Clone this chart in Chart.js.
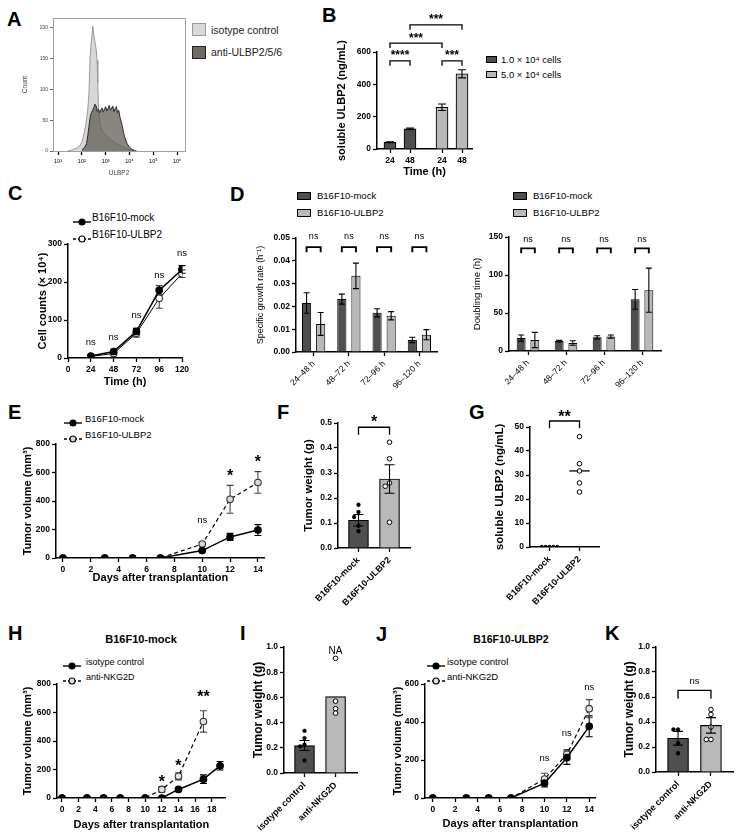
<!DOCTYPE html>
<html>
<head>
<meta charset="utf-8">
<script src="https://cdn.jsdelivr.net/npm/chart.js@4.4.1/dist/chart.umd.min.js"></script>
<style>
  html, body { margin: 0; padding: 0; background: #fff; }
  body { position: relative; width: 742px; height: 838px; overflow: hidden; font-family: "Liberation Sans", Arial, sans-serif; color: #000; }
  canvas { position: absolute; }
  .t { position: absolute; white-space: nowrap; transform: translateY(-50%); line-height: 1; }
  .c { transform: translate(-50%, -50%); }
  .box { position: absolute; box-sizing: border-box; border: 1px solid #000; }
</style>
</head>
<body>
<script>
// ---------- data ----------
// A: flow histogram, x = log10 fluorescence
const histIsoX = [1.4,1.6,1.8,1.9,2.0,2.05,2.1,2.15,2.2,2.25,2.3,2.34,2.38,2.42,2.46,2.5,2.55,2.6,2.64,2.67,2.7,2.75,2.8,2.9,3.0,3.1,3.2,3.3,3.4,3.5,3.6,3.7,3.8,3.9,4.0,4.1,4.2];
const histIsoCount = [0,2,5,8,14,22,30,40,52,68,95,145,170,185,203,190,178,165,148,110,70,48,38,30,26,22,19,16,13,11,9,7,5,4,2,1,0];
const histAbX = [2.0,2.1,2.2,2.25,2.3,2.35,2.4,2.45,2.5,2.55,2.6,2.65,2.7,2.75,2.8,2.85,2.9,2.95,3.0,3.05,3.1,3.15,3.2,3.25,3.3,3.35,3.4,3.45,3.5,3.55,3.6,3.65,3.7,3.75,3.8,3.9,4.0,4.1,4.2,4.3];
const histAbCount = [2,5,12,25,40,55,62,66,70,76,73,64,68,62,67,70,63,68,72,65,69,74,66,70,73,64,69,72,62,66,55,48,40,30,22,12,6,3,1,0];
const histDecades = [1,2,3,4,5,6];
const histDecadeLabels = ['10¹','10²','10³','10⁴','10⁵','10⁶'];
const histCountTicks = [0,50,100,150,200];

// B: soluble ULBP2
const bDensity = ['1.0 × 10⁴ cells', '5.0 × 10⁴ cells'];
const bTimes = ['24', '48'];
const bLow = [42, 124], bLowErr = [3, 5];
const bHigh = [258, 465], bHighErr = [20, 25];
const bSigPairs = [[0,1],[2,3],[0,2],[1,3]];
const bSigLevel = [545, 545, 655, 768];
const bSigText = ['****','***','***','***'];

// C: cell counts
const cTimes = [24, 48, 72, 96, 120];
const cMock = [5, 17, 70, 178, 233], cMockErr = [1, 2, 8, 12, 10];
const cUlbp = [4, 12, 65, 157, 222], cUlbpErr = [1, 2, 10, 26, 10];
const cSigY = [42, 55, 113, 218, 276];

// D: growth rate / doubling time
const dLines = ['B16F10-mock', 'B16F10-ULBP2'];
const dIntervals = ['24–48 h', '48–72 h', '72–96 h', '96–120 h'];
const sgrMock = [0.0215, 0.0232, 0.0172, 0.0053], sgrMockErr = [0.0045, 0.0022, 0.0018, 0.0012];
const sgrUlbp = [0.0123, 0.0334, 0.0159, 0.0076], sgrUlbpErr = [0.005, 0.0056, 0.0018, 0.0022];
const dtMock = [17, 13, 18, 68], dtMockErr = [4, 1, 2, 13];
const dtUlbp = [14.5, 10.5, 19, 80], dtUlbpErr = [10, 3, 2, 29];

// E: tumour volume
const eDays = [0, 3, 5, 7, 10, 12, 14];
const eMock = [0, 0, 0, 0, 52, 148, 196], eMockErr = [0, 0, 0, 0, 8, 25, 38];
const eUlbp = [0, 0, 0, 0, 98, 412, 530], eUlbpErr = [0, 0, 0, 0, 12, 98, 76];
const eSigDay = [10, 12, 14], eSigText = ['ns', '*', '*'], eSigY = [262, 600, 700];
const dayTicks14 = [0, 2, 4, 6, 8, 10, 12, 14];

// F: tumour weight
const fGroups = ['B16F10-mock', 'B16F10-ULBP2'];
const fMean = [0.111, 0.276], fSem = [0.023, 0.057];
const fMockPts = [0.173, 0.144, 0.124, 0.089, 0.067];
const fUlbpPts = [0.423, 0.357, 0.26, 0.247, 0.103];

// G: serum soluble ULBP2
const gMockPts = [0, 0, 0, 0, 0];
const gUlbpPts = [46, 34.7, 31.7, 26.7, 22.9];

// H: B16F10-mock, antibody treatment
const hTreat = ['isotype control', 'anti-NKG2D'];
const hDaysIso = [0, 3, 5, 7, 10, 12, 14, 17, 19];
const hIso = [0, 0, 0, 0, 0, 0, 60, 132, 226], hIsoErr = [0, 0, 0, 0, 0, 0, 8, 30, 30];
const hDaysAnti = [0, 3, 5, 7, 10, 12, 14, 17];
const hAnti = [0, 0, 0, 0, 0, 60, 152, 537], hAntiErr = [0, 0, 0, 0, 0, 20, 25, 75];
const hSigDay = [12, 14, 17], hSigText = ['*', '*', '**'], hSigY = [140, 250, 735];
const dayTicks18 = [0, 2, 4, 6, 8, 10, 12, 14, 16, 18];

// I: tumour weight, mock
const iMean = [0.218, 0.606], iSem = [0.04, 0];
const iIsoPts = [0.335, 0.277, 0.225, 0.212, 0.10];
const iAntiPts = [0.91, 0.57, 0.51, 0.475];

// J: B16F10-ULBP2, antibody treatment
const jDays = [0, 3, 5, 7, 10, 12, 14];
const jIso = [0, 0, 0, 0, 78, 212, 377], jIsoErr = [0, 0, 0, 0, 20, 35, 55];
const jAnti = [0, 0, 0, 0, 100, 230, 470], jAntiErr = [0, 0, 0, 0, 30, 25, 48];
const jSigY = [210, 342, 580];

// K: tumour weight, ULBP2
const kMean = [0.27, 0.373], kSem = [0.055, 0.062];
const kIsoPts = [0.34, 0.34, 0.23, 0.15];
const kAntiPts = [0.50, 0.46, 0.36, 0.26, 0.26];

// ---------- helpers ----------
const FONT = '"Liberation Sans", Arial, sans-serif';
const DARK = '#4f4f4f', LIGHT = '#b9b9b9';
const TICKF = {size: 8.5, weight: 'bold'};
Chart.defaults.font.family = FONT;
Chart.defaults.color = '#000';
Chart.defaults.animation = false;
Chart.defaults.plugins.legend.display = false;
Chart.defaults.plugins.tooltip.enabled = false;

function drawErr(chart) {
  const ctx = chart.ctx;
  chart.data.datasets.forEach((ds, di) => {
    if (!ds.errors) return;
    const meta = chart.getDatasetMeta(di);
    const ys = chart.scales[meta.yAxisID];
    ctx.save();
    ctx.strokeStyle = ds.errColor || '#000';
    ctx.lineWidth = ds.errWidth || 1.1;
    meta.data.forEach((el, i) => {
      const e = ds.errors[i];
      if (!e) return;
      const v = meta.controller.getParsed(i).y;
      const yt = ys.getPixelForValue(v + e), yb = ys.getPixelForValue(v - e), c = ds.errCap || 3.5;
      ctx.beginPath();
      ctx.moveTo(el.x, yt); ctx.lineTo(el.x, yb);
      ctx.moveTo(el.x - c, yt); ctx.lineTo(el.x + c, yt);
      ctx.moveTo(el.x - c, yb); ctx.lineTo(el.x + c, yb);
      ctx.stroke();
    });
    ctx.restore();
  });
}
const errorBars = {
  id: 'errorBars',
  beforeDatasetsDraw(chart) { if (chart.data.errBehind) drawErr(chart); },
  afterDatasetsDraw(chart) { if (!chart.data.errBehind) drawErr(chart); }
};
const sigMarks = {
  id: 'sigMarks',
  afterDraw(chart) {
    const m = chart.data.marks;
    if (!m) return;
    const ctx = chart.ctx, xs = chart.scales.x, ys = chart.scales.y;
    ctx.save();
    ctx.strokeStyle = '#000';
    (m.brackets || []).forEach(b => {
      const x1 = xs.getPixelForValue(b.x1), x2 = xs.getPixelForValue(b.x2);
      const yt = ys.getPixelForValue(b.y), yl = ys.getPixelForValue(b.y - b.leg);
      ctx.lineWidth = b.lw || 1.3;
      ctx.beginPath();
      ctx.moveTo(x1, yl); ctx.lineTo(x1, yt); ctx.lineTo(x2, yt); ctx.lineTo(x2, yl);
      ctx.stroke();
    });
    ctx.textAlign = 'center';
    ctx.textBaseline = 'middle';
    ctx.fillStyle = '#000';
    (m.texts || []).forEach(t => {
      const star = t.t.indexOf('*') >= 0;
      const size = t.size || (star ? 16 : 9.5);
      ctx.font = (star ? 'bold ' : '') + size + 'px ' + FONT;
      ctx.fillText(t.t, xs.getPixelForValue(t.x), ys.getPixelForValue(t.y) + (star ? size * 0.28 : 0));
    });
    ctx.restore();
  }
};
const frame = {
  id: 'frame',
  afterDraw(chart) {
    if (!chart.data.frame) return;
    const a = chart.chartArea, ctx = chart.ctx;
    ctx.save();
    ctx.strokeStyle = '#a0a0a0';
    ctx.lineWidth = 1;
    ctx.strokeRect(a.left + 0.5, a.top + 0.5, a.right - a.left, a.bottom - a.top);
    ctx.restore();
  }
};
Chart.register(errorBars, sigMarks, frame);

function zeroPad(s) { s.paddingLeft = 0; s.paddingRight = 0; s.paddingTop = 0; s.paddingBottom = 0; }

function panel(box, config) {
  const {L, T, R, B, yW, xH, pt, pr} = box;
  const w = R - L + yW + pr, h = B - T + pt + xH;
  const c = document.createElement('canvas');
  c.width = w; c.height = h;
  c.style.left = (L - yW) + 'px'; c.style.top = (T - pt) + 'px';
  c.style.width = w + 'px'; c.style.height = h + 'px';
  document.body.appendChild(c);
  const o = config.options;
  o.responsive = false;
  o.devicePixelRatio = 1;
  o.layout = {padding: {top: pt, right: pr, left: 0, bottom: 0}};
  o.scales.x.afterFit = s => { s.height = xH; zeroPad(s); };
  o.scales.y.afterFit = s => { s.width = yW; zeroPad(s); };
  return new Chart(c, config);
}

function grid() { return {drawOnChartArea: false, tickLength: 4, tickColor: '#000', tickWidth: 1.3, offset: false}; }
function yAx(min, max, step, title, tsize, tweight, fmt) {
  const a = {
    min, max,
    ticks: {stepSize: step, font: TICKF, color: '#000', padding: 2},
    grid: grid(), border: {color: '#000', width: 1.5},
    title: {display: true, text: title, font: {size: tsize, weight: tweight || 'bold'}, color: '#000', padding: 0}
  };
  if (fmt !== undefined) a.ticks.callback = v => v.toFixed(fmt);
  return a;
}
function xAx(o) {
  const a = {
    type: o.type || 'linear', offset: !!o.offset,
    grid: grid(), border: {color: '#000', width: 1.5},
    ticks: {font: o.font || TICKF, color: '#000', padding: 3, autoSkip: false,
            minRotation: o.rot || 0, maxRotation: o.rot || 0},
    title: o.title ? {display: true, text: o.title, font: {size: o.tsize || 11, weight: 'bold'}, color: '#000', padding: 0} : {display: false}
  };
  if (o.min !== undefined) { a.min = o.min; a.max = o.max; }
  if (o.step) a.ticks.stepSize = o.step;
  if (o.ticks) a.afterBuildTicks = s => { s.ticks = o.ticks.map(v => ({value: v})); };
  if (o.label) a.ticks.callback = v => o.label(v);
  return a;
}
function pts(xs, ys) { return xs.map((x, i) => ({x, y: ys[i]})); }
function swarm(vals, center, tol, step) {
  return vals.map((v, i) => {
    let k = 0;
    for (let j = 0; j < i; j++) if (Math.abs(vals[j] - v) < tol) k++;
    const off = k === 0 ? 0 : (k % 2 ? -1 : 1) * Math.ceil(k / 2) * step;
    return {x: center + off, y: v};
  });
}
function lineDS(label, xs, ys, errs, open, dashed, fillCol) {
  return {
    label, data: pts(xs, ys), errors: errs, errCap: 3.5, errColor: open ? '#444' : '#000',
    borderColor: '#000', borderWidth: dashed ? 1.2 : 1.5, borderDash: dashed ? [4, 3] : [],
    pointRadius: 3.3, pointBackgroundColor: open ? (fillCol || '#fff') : '#000',
    pointBorderColor: open ? '#333' : '#000', pointBorderWidth: 1.1, tension: 0, fill: false,
    order: open ? 2 : 1
  };
}

// ---------- HTML text ----------
function txt(x, y, s, style, center) {
  const d = document.createElement('div');
  d.className = 't' + (center ? ' c' : '');
  d.textContent = s;
  d.style.left = x + 'px'; d.style.top = y + 'px';
  Object.assign(d.style, style || {});
  document.body.appendChild(d);
}
function letter(x, y, s) { txt(x, y, s, {fontSize: '20px', fontWeight: 'bold'}); }
function boxKey(x, y, w, h, fill, border) {
  const d = document.createElement('div');
  d.className = 'box';
  Object.assign(d.style, {left: x + 'px', top: y + 'px', width: w + 'px', height: h + 'px', background: fill, borderColor: border || '#000'});
  document.body.appendChild(d);
}
function lineKey(x, y, open, dashed, fillCol) {
  const d = document.createElement('div');
  d.style.cssText = 'position:absolute;left:' + x + 'px;top:' + (y - 5) + 'px;width:20px;height:10px;';
  d.innerHTML = '<svg width="20" height="10"><line x1="1" y1="5" x2="19" y2="5" stroke="#000" stroke-width="1.4"' +
    (dashed ? ' stroke-dasharray="3 2"' : '') + '/><circle cx="10" cy="5" r="3" fill="' +
    (open ? (fillCol || '#fff') : '#000') + '" stroke="#000" stroke-width="1.1"/></svg>';
  document.body.appendChild(d);
}

letter(7, 19, 'A'); letter(322, 15, 'B'); letter(8, 193, 'C'); letter(230, 194, 'D');
letter(8, 412, 'E'); letter(277, 412, 'F'); letter(469, 412, 'G');
letter(8, 633, 'H'); letter(240, 633, 'I'); letter(376, 634, 'J'); letter(605, 633, 'K');

// legends
boxKey(192, 23, 14, 13, '#d9d9d9', '#9a9a9a'); txt(211, 30, 'isotype control', {fontSize: '10.5px', color: '#222'});
boxKey(192, 46, 14, 13, '#6f6a66', '#222');     txt(211, 52, 'anti-ULBP2/5/6', {fontSize: '10.5px', color: '#222'});
boxKey(486, 56, 11, 7, DARK); txt(501, 59.5, bDensity[0], {fontSize: '9.5px'});
boxKey(486, 71, 11, 7, LIGHT); txt(501, 74.5, bDensity[1], {fontSize: '9.5px'});
lineKey(72, 218, false, false); txt(92, 218, dLines[0], {fontSize: '10px'});
lineKey(72, 235, true, true); txt(92, 235, dLines[1], {fontSize: '10px'});
boxKey(297, 192, 14, 8, DARK); txt(317, 196, dLines[0], {fontSize: '9.5px'});
boxKey(297, 209, 14, 8, LIGHT); txt(317, 213, dLines[1], {fontSize: '9.5px'});
boxKey(513, 192, 14, 8, DARK); txt(533, 196, dLines[0], {fontSize: '9.5px'});
boxKey(513, 209, 14, 8, LIGHT); txt(533, 213, dLines[1], {fontSize: '9.5px'});
lineKey(63, 419, false, false); txt(85, 419, dLines[0], {fontSize: '9.5px'});
lineKey(63, 435, true, true, '#d8d8d8'); txt(85, 435, dLines[1], {fontSize: '9.5px'});
txt(141, 639, 'B16F10-mock', {fontSize: '11px', fontWeight: 'bold'}, true);
lineKey(62, 662, false, false); txt(86, 662, hTreat[0], {fontSize: '9px'});
lineKey(62, 677, true, true, '#e2e2e2'); txt(86, 677, hTreat[1], {fontSize: '9px'});
txt(511, 639, 'B16F10-ULBP2', {fontSize: '10.5px', fontWeight: 'bold'}, true);
lineKey(426, 662, false, false); txt(447, 662, hTreat[0], {fontSize: '9.5px'});
lineKey(426, 677, true, true, '#e2e2e2'); txt(447, 677, hTreat[1], {fontSize: '9.5px'});

// ---------- A ----------
panel({L: 53, T: 18, R: 185, B: 151, yW: 32, xH: 26, pt: 2, pr: 2}, {
  type: 'line',
  data: {
    frame: true,
    datasets: [
      {label: 'anti-ULBP2/5/6', data: pts(histAbX, histAbCount), borderColor: '#2a2a2a', borderWidth: 1,
       backgroundColor: 'rgba(92,86,80,0.72)', fill: 'origin', pointRadius: 0, tension: 0, order: 1},
      {label: 'isotype control', data: pts(histIsoX, histIsoCount), borderColor: '#9a9a9a', borderWidth: 1,
       backgroundColor: '#d7d7d7', fill: 'origin', pointRadius: 0, tension: 0, order: 2}
    ]
  },
  options: {
    scales: {
      x: Object.assign(xAx({min: 0.79, max: 6.33, ticks: histDecades, font: {size: 5.5},
            label: v => histDecadeLabels[histDecades.indexOf(v)], title: 'ULBP2'}),
          {border: {color: '#888', width: 1}, title: {display: true, text: 'ULBP2', font: {size: 6.5}, color: '#444', padding: 0}}),
      y: {min: 0, max: 216, afterBuildTicks: s => { s.ticks = histCountTicks.map(v => ({value: v})); },
          ticks: {font: {size: 5}, color: '#444', padding: 2},
          grid: {drawOnChartArea: false, tickLength: 3, tickColor: '#666'}, border: {color: '#888', width: 1},
          title: {display: true, text: 'Count', font: {size: 6.5}, color: '#444', padding: 0}}
    }
  }
});

// ---------- B ----------
const bPos = i => Math.floor(i / 2) * (bTimes.length + 0.6) + (i % 2);
const bSig = {brackets: [], texts: []};
bSigPairs.forEach((p, k) => {
  bSig.brackets.push({x1: bPos(p[0]), x2: bPos(p[1]), y: bSigLevel[k], leg: 30});
  bSig.texts.push({x: (bPos(p[0]) + bPos(p[1])) / 2, y: bSigLevel[k] + 50, t: bSigText[k], size: 12});
});
panel({L: 377, T: 52, R: 472, B: 149, yW: 42, xH: 30, pt: 46, pr: 3}, {
  type: 'bar',
  data: {
    marks: bSig,
    datasets: [
      {label: bDensity[0], data: bLow.map((v, t) => ({x: bPos(t), y: v})), errors: bLowErr, errCap: 4,
       backgroundColor: DARK, borderColor: '#000', borderWidth: 1.1, barThickness: 12},
      {label: bDensity[1], data: bHigh.map((v, t) => ({x: bPos(2 + t), y: v})), errors: bHighErr, errCap: 4,
       backgroundColor: LIGHT, borderColor: '#000', borderWidth: 1.1, barThickness: 12}
    ]
  },
  options: {
    datasets: {bar: {grouped: false}},
    scales: {
      x: xAx({min: -0.65, max: 4.1, ticks: [0, 1, 2, 3].map(bPos),
              label: v => bTimes[[0, 1, 2, 3].map(bPos).indexOf(v) % 2], title: 'Time (h)', tsize: 11}),
      y: yAx(0, 600, 200, 'soluble ULBP2 (ng/mL)', 11)
    }
  }
});

// ---------- C ----------
panel({L: 68, T: 244, R: 182, B: 358, yW: 32, xH: 31, pt: 8, pr: 10}, {
  type: 'line',
  data: {
    errBehind: true,
    marks: {texts: cTimes.map((t, i) => ({x: t, y: cSigY[i], t: 'ns'}))},
    datasets: [
      lineDS(dLines[0], cTimes, cMock, cMockErr, false, false),
      Object.assign(lineDS(dLines[1], cTimes, cUlbp, cUlbpErr, true, false), {borderWidth: 1})
    ]
  },
  options: {
    scales: {
      x: xAx({min: 0, max: 120, step: 24, title: 'Time (h)'}),
      y: yAx(0, 300, 100, 'Cell counts (× 10⁴)', 11)
    }
  }
});

// ---------- D ----------
function dPanel(box, mock, mockErr, ulbp, ulbpErr, yOpts, cp, brY, brLeg, nsY) {
  const half = cp / 4;
  return panel(box, {
    type: 'bar',
    data: {
      labels: dIntervals,
      marks: {
        brackets: dIntervals.map((_, i) => ({x1: i - half, x2: i + half, y: brY, leg: brLeg, lw: 1.9})),
        texts: dIntervals.map((_, i) => ({x: i, y: nsY, t: 'ns', size: 9}))
      },
      datasets: [
        {label: dLines[0], data: mock, errors: mockErr, errCap: 3, backgroundColor: DARK, borderColor: '#000', borderWidth: 1},
        {label: dLines[1], data: ulbp, errors: ulbpErr, errCap: 3, backgroundColor: LIGHT, borderColor: '#000', borderWidth: 1}
      ]
    },
    options: {
      datasets: {bar: {categoryPercentage: cp, barPercentage: 0.65}},
      scales: {
        x: xAx({type: 'category', offset: true, rot: 45, font: {size: 8.5}}),
        y: yOpts
      }
    }
  });
}
dPanel({L: 296, T: 238, R: 437, B: 352, yW: 41, xH: 45, pt: 10, pr: 3},
  sgrMock, sgrMockErr, sgrUlbp, sgrUlbpErr,
  yAx(0, 0.05, 0.01, 'Specific growth rate (h⁻¹)', 9, 'normal', 2), 0.8, 0.046, 0.0022, 0.0505);
dPanel({L: 509, T: 237, R: 661, B: 351, yW: 37, xH: 45, pt: 10, pr: 3},
  dtMock, dtMockErr, dtUlbp, dtUlbpErr,
  yAx(0, 150, 50, 'Doubling time (h)', 9.5, 'normal'), 0.72, 135, 6.5, 147);

// ---------- E ----------
panel({L: 56, T: 444, R: 265, B: 558, yW: 35, xH: 27, pt: 6, pr: 5}, {
  type: 'line',
  data: {
    errBehind: true,
    marks: {texts: eSigDay.map((d, i) => ({x: d, y: eSigY[i], t: eSigText[i]}))},
    datasets: [
      lineDS(dLines[0], eDays, eMock, eMockErr, false, false),
      lineDS(dLines[1], eDays, eUlbp, eUlbpErr, true, true, '#d8d8d8')
    ]
  },
  options: {
    scales: {
      x: xAx({min: -0.5, max: 14.5, ticks: dayTicks14, title: 'Days after transplantation'}),
      y: yAx(0, 800, 200, 'Tumor volume (mm³)', 11)
    }
  }
});

// ---------- F ----------
function weightPanel(box, groups, mean, sem, ptsA, ptsB, yOpts, marks, xr, barW) {
  return panel(box, {
    type: 'bar',
    data: {
      marks,
      datasets: [
        {type: 'bar', data: mean.map((v, i) => ({x: i, y: v})), errors: sem, errCap: 5,
         backgroundColor: [DARK, LIGHT], borderColor: '#000', borderWidth: 1.2, barThickness: barW, order: 3},
        {type: 'scatter', data: swarm(ptsA, 0, 0.02, 0.14), pointRadius: 1.9, pointBackgroundColor: '#000',
         pointBorderColor: '#000', pointBorderWidth: 0.5, order: 1},
        {type: 'scatter', data: swarm(ptsB, 1, 0.02, 0.14), pointRadius: 2.3, pointBackgroundColor: '#fff',
         pointBorderColor: '#000', pointBorderWidth: 1, order: 1}
      ]
    },
    options: {
      scales: {
        x: xAx({min: xr[0], max: xr[1], ticks: [0, 1], label: v => groups[v], rot: 45, font: {size: 9, weight: 'bold'}}),
        y: yOpts
      }
    }
  });
}
weightPanel({L: 338, T: 423, R: 412, B: 548, yW: 36, xH: 70, pt: 14, pr: 3},
  fGroups, fMean, fSem, fMockPts, fUlbpPts, yAx(0, 0.5, 0.1, 'Tumor weight (g)', 11.5, 'bold', 1),
  {brackets: [{x1: 0, x2: 1, y: 0.483, leg: 0.03}], texts: [{x: 0.5, y: 0.519, t: '*'}]}, [-0.66, 1.66], 20);

// ---------- G ----------
const gMedian = gUlbpPts.slice().sort((a, b) => a - b)[2];
panel({L: 530, T: 427, R: 601, B: 547, yW: 37, xH: 70, pt: 22, pr: 3}, {
  type: 'scatter',
  data: {
    marks: {brackets: [{x1: 0, x2: 1, y: 52.5, leg: 3}], texts: [{x: 0.5, y: 55.8, t: '**'}]},
    datasets: [
      {data: swarm(gMockPts, 0, 1, 0.13), pointRadius: 1.7, pointBackgroundColor: '#000', pointBorderColor: '#000'},
      {data: swarm(gUlbpPts, 1, 1, 0.13), pointRadius: 2.3, pointBackgroundColor: '#fff', pointBorderColor: '#000', pointBorderWidth: 1},
      {type: 'line', data: [{x: 1 - 0.34, y: gMedian}, {x: 1 + 0.34, y: gMedian}], borderColor: '#000', borderWidth: 1.3, pointRadius: 0}
    ]
  },
  options: {
    scales: {
      x: xAx({min: -0.65, max: 1.65, ticks: [0, 1], label: v => fGroups[v], rot: 45, font: {size: 9, weight: 'bold'}}),
      y: yAx(0, 50, 10, 'soluble ULBP2 (ng/mL)', 11.5)
    }
  }
});

// ---------- H ----------
panel({L: 57, T: 684, R: 226, B: 798, yW: 36, xH: 34, pt: 8, pr: 5}, {
  type: 'line',
  data: {
    errBehind: true,
    marks: {texts: hSigDay.map((d, i) => ({x: d, y: hSigY[i], t: hSigText[i]}))},
    datasets: [
      lineDS(hTreat[0], hDaysIso, hIso, hIsoErr, false, false),
      lineDS(hTreat[1], hDaysAnti, hAnti, hAntiErr, true, true, '#e2e2e2')
    ]
  },
  options: {
    scales: {
      x: xAx({min: -0.6, max: 19.7, ticks: dayTicks18, title: 'Days after transplantation'}),
      y: yAx(0, 800, 200, 'Tumor volume (mm³)', 11)
    }
  }
});

// ---------- I ----------
weightPanel({L: 284, T: 647, R: 359, B: 773, yW: 33, xH: 64, pt: 6, pr: 3},
  hTreat, iMean, iSem, iIsoPts, iAntiPts, yAx(0, 1, 0.2, 'Tumor weight (g)', 12, 'bold', 1),
  {texts: [{x: 1, y: 0.965, t: 'NA', size: 10}]}, [-0.66, 1.69], 20);

// ---------- J ----------
panel({L: 425, T: 684, R: 596, B: 798, yW: 34, xH: 33, pt: 8, pr: 5}, {
  type: 'line',
  data: {
    errBehind: true,
    marks: {texts: [10, 12, 14].map((d, i) => ({x: d, y: jSigY[i], t: 'ns'}))},
    datasets: [
      lineDS(hTreat[0], jDays, jIso, jIsoErr, false, false),
      lineDS(hTreat[1], jDays, jAnti, jAntiErr, true, true, '#e2e2e2')
    ]
  },
  options: {
    scales: {
      x: xAx({min: -0.7, max: 14.6, ticks: dayTicks14, title: 'Days after transplantation'}),
      y: yAx(0, 600, 200, 'Tumor volume (mm³)', 11)
    }
  }
});

// ---------- K ----------
weightPanel({L: 656, T: 647, R: 733, B: 772, yW: 34, xH: 64, pt: 6, pr: 5},
  hTreat, kMean, kSem, kIsoPts, kAntiPts, yAx(0, 1, 0.2, 'Tumor weight (g)', 12, 'bold', 1),
  {brackets: [{x1: 0, x2: 1, y: 0.653, leg: 0.066}], texts: [{x: 0.5, y: 0.725, t: 'ns'}]}, [-0.67, 1.67], 21);
</script>
</body>
</html>
